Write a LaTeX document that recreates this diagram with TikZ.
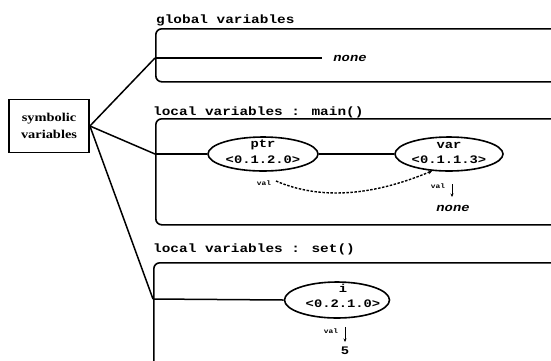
\documentclass[tikz,border=0pt]{standalone}
\usepackage{fontspec}
\usepackage{graphicx}
\usetikzlibrary{shapes.geometric,arrows.meta}
\newfontfamily\monof{Liberation Mono}
\newfontfamily\serf{Liberation Serif}
\newcommand\tw[2][1.2]{\scalebox{#1}[1]{\monof\bfseries #2}}
\newcommand\sw[1]{\scalebox{1.2}[1]{\serf\bfseries #1}}
\tikzset{
  frame/.style={draw, line width=1.6pt, rounded corners=6pt, anchor=north west, inner sep=0pt},
  conn/.style={line width=1.5pt},
  ell/.style={draw, ellipse, line width=1.6pt, inner sep=0pt},
  lbl/.style={anchor=west, inner sep=0pt, font=\fontsize{12}{14}\selectfont},
  txt/.style={inner sep=0pt, font=\fontsize{11.5}{14}\selectfont},
  small/.style={inner sep=0pt, font=\fontsize{6.5}{8}\selectfont},
  tip/.style={-{Stealth[length=3.5pt,width=3pt]}, line width=0.9pt}
}
\begin{document}
\begin{tikzpicture}[x=1pt,y=-1pt]
\clip (0,0) rectangle (551,360);
\fill[white] (0,0) rectangle (551,360);

% symbolic variables
\node[draw, line width=1.8pt, minimum width=80pt, minimum height=53pt, align=center,
      font=\fontsize{12}{17}\selectfont] (sv) at (49,126) {\sw{symbolic}\\\sw{variables}};

% global box
\node[lbl] (glab) at (156,20) {\tw{global variables}};
\node[frame, minimum width=405pt, minimum height=53pt] (gbox) at (155,28) {};
\coordinate (gL) at (155,58);
\coordinate (gR) at (322,58);
\node[txt] (gnone) at (350,58) {\tw{\itshape none}};
\draw[conn] (sv.east) -- (gL);
\draw[conn] (gL) -- (gR);

% main box
\node[lbl] (mlab) at (153,112) {\tw{local variables : main()}};
\node[frame, minimum width=405pt, minimum height=106pt] (mbox) at (155,118) {};
\coordinate (mL) at (155,154);
\node[ell, minimum width=110pt, minimum height=34pt] (ptr) at (263,154) {};
\node[txt] (ptrn) at (263,145) {\tw{ptr}};
\node[txt] (ptrv) at (263,160) {\tw{<0.1.2.0>}};
\node[ell, minimum width=108pt, minimum height=34pt] (var) at (449,154) {};
\node[txt] (varn) at (449,145) {\tw{var}};
\node[txt] (varv) at (449,160) {\tw{<0.1.1.3>}};
\draw[conn] (sv.east) -- (mL);
\draw[conn] (mL) -- (ptr.west);
\draw[conn] (ptr.east) -- (var.west);
\node[small] (pval) at (264,183) {\tw{val}};
\coordinate (pv) at (276,181);
\draw[line width=1.4pt, dash pattern=on 2.5pt off 1.5pt, -{Stealth[length=4pt,width=4pt]}]
  (pv) .. controls (320,200) and (372,196) .. (var.225);
\node[small] (vval) at (438,186) {\tw{val}};
\node[txt] (vnone) at (453,208) {\tw{\itshape none}};
\draw[tip] (452,184) -- (452,197);

% set box
\node[lbl] (slab) at (153,249) {\tw{local variables : set()}};
\node[frame, minimum width=405pt, minimum height=130pt] (sbox) at (153,262) {};
\coordinate (sL) at (153,299);
\node[ell, minimum width=105pt, minimum height=36pt] (iv) at (337,300) {};
\node[txt] (in) at (343,288) {\tw{i}};
\node[txt] (iv2) at (343,304) {\tw{<0.2.1.0>}};
\draw[conn] (sv.east) -- (sL);
\draw[conn] (sL) -- (iv.west);
\node[small] (ival) at (331,331) {\tw{val}};
\draw[tip] (345,327) -- (345,342);
\node[txt] (five) at (345,351) {\tw{5}};
\end{tikzpicture}
\end{document}
